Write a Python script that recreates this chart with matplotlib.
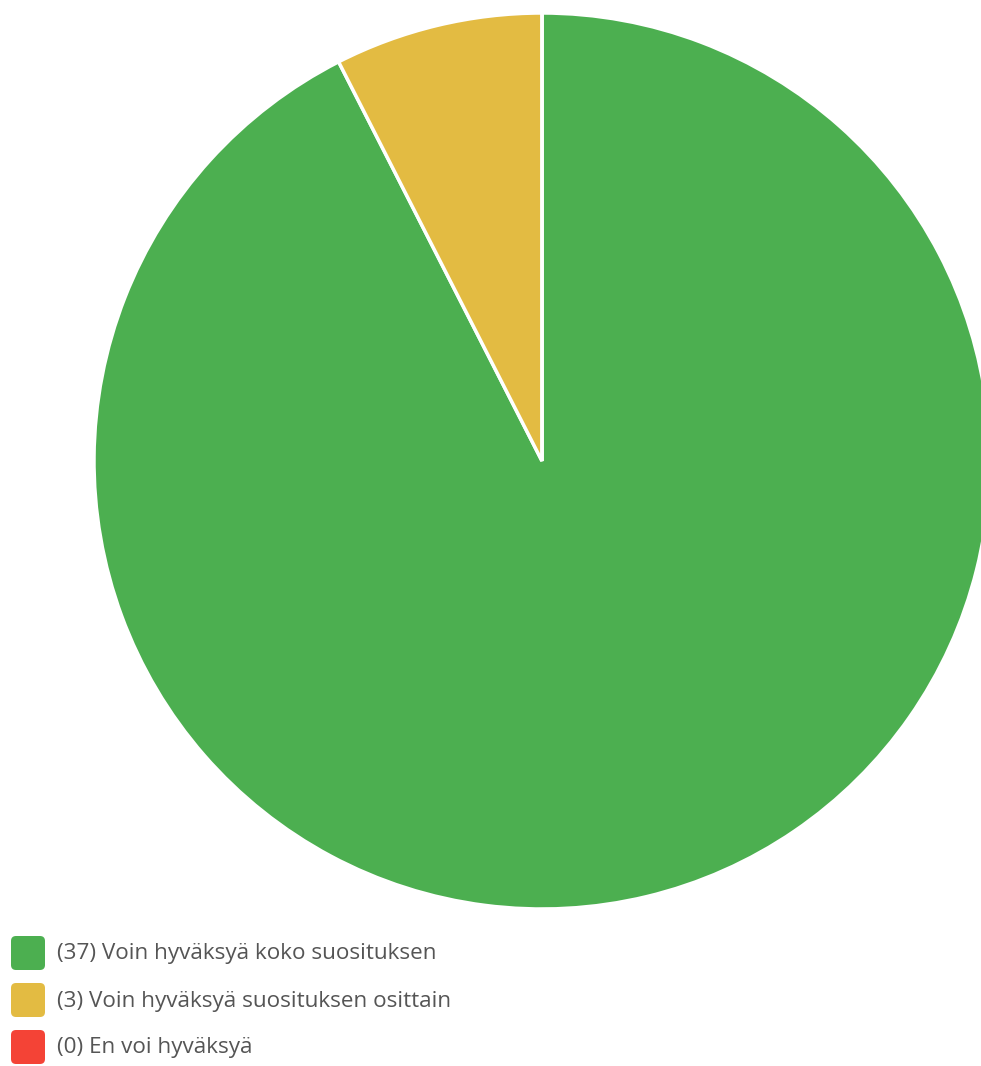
import matplotlib
matplotlib.use("Agg")
import matplotlib.pyplot as plt
from matplotlib.patches import FancyBboxPatch

labels = ["Voin hyväksyä koko suosituksen", "Voin hyväksyä suosituksen osittain", "En voi hyväksyä"]
counts = [37, 3, 0]
colors = ["#4CAF50", "#E3BB42", "#F44336"]

W, H = 981, 1066
fig = plt.figure(figsize=(W / 100, H / 100), dpi=100)
ax = fig.add_axes([0, 0, 1, 1])
ax.set_xlim(0, W)
ax.set_ylim(0, H)
ax.set_aspect("equal")
ax.axis("off")

ax.pie(counts, colors=colors, startangle=90, counterclock=False,
       center=(542, H - 461), radius=448,
       wedgeprops=dict(edgecolor="white", linewidth=2.5))
ax.set_xlim(0, W)
ax.set_ylim(0, H)

for i, (lab, c, col) in enumerate(zip(labels, counts, colors)):
    yc = H - (953 + 47 * i)
    box = FancyBboxPatch((11, yc - 17), 34, 34, boxstyle="round,pad=0,rounding_size=5",
                         facecolor=col, edgecolor="none")
    ax.add_patch(box)
    ax.text(57, yc - 1, f"({c}) {lab}", fontsize=16.2, family="Open Sans",
            color="#555555", va="center", ha="left")

fig.savefig("out.png", dpi=100)
